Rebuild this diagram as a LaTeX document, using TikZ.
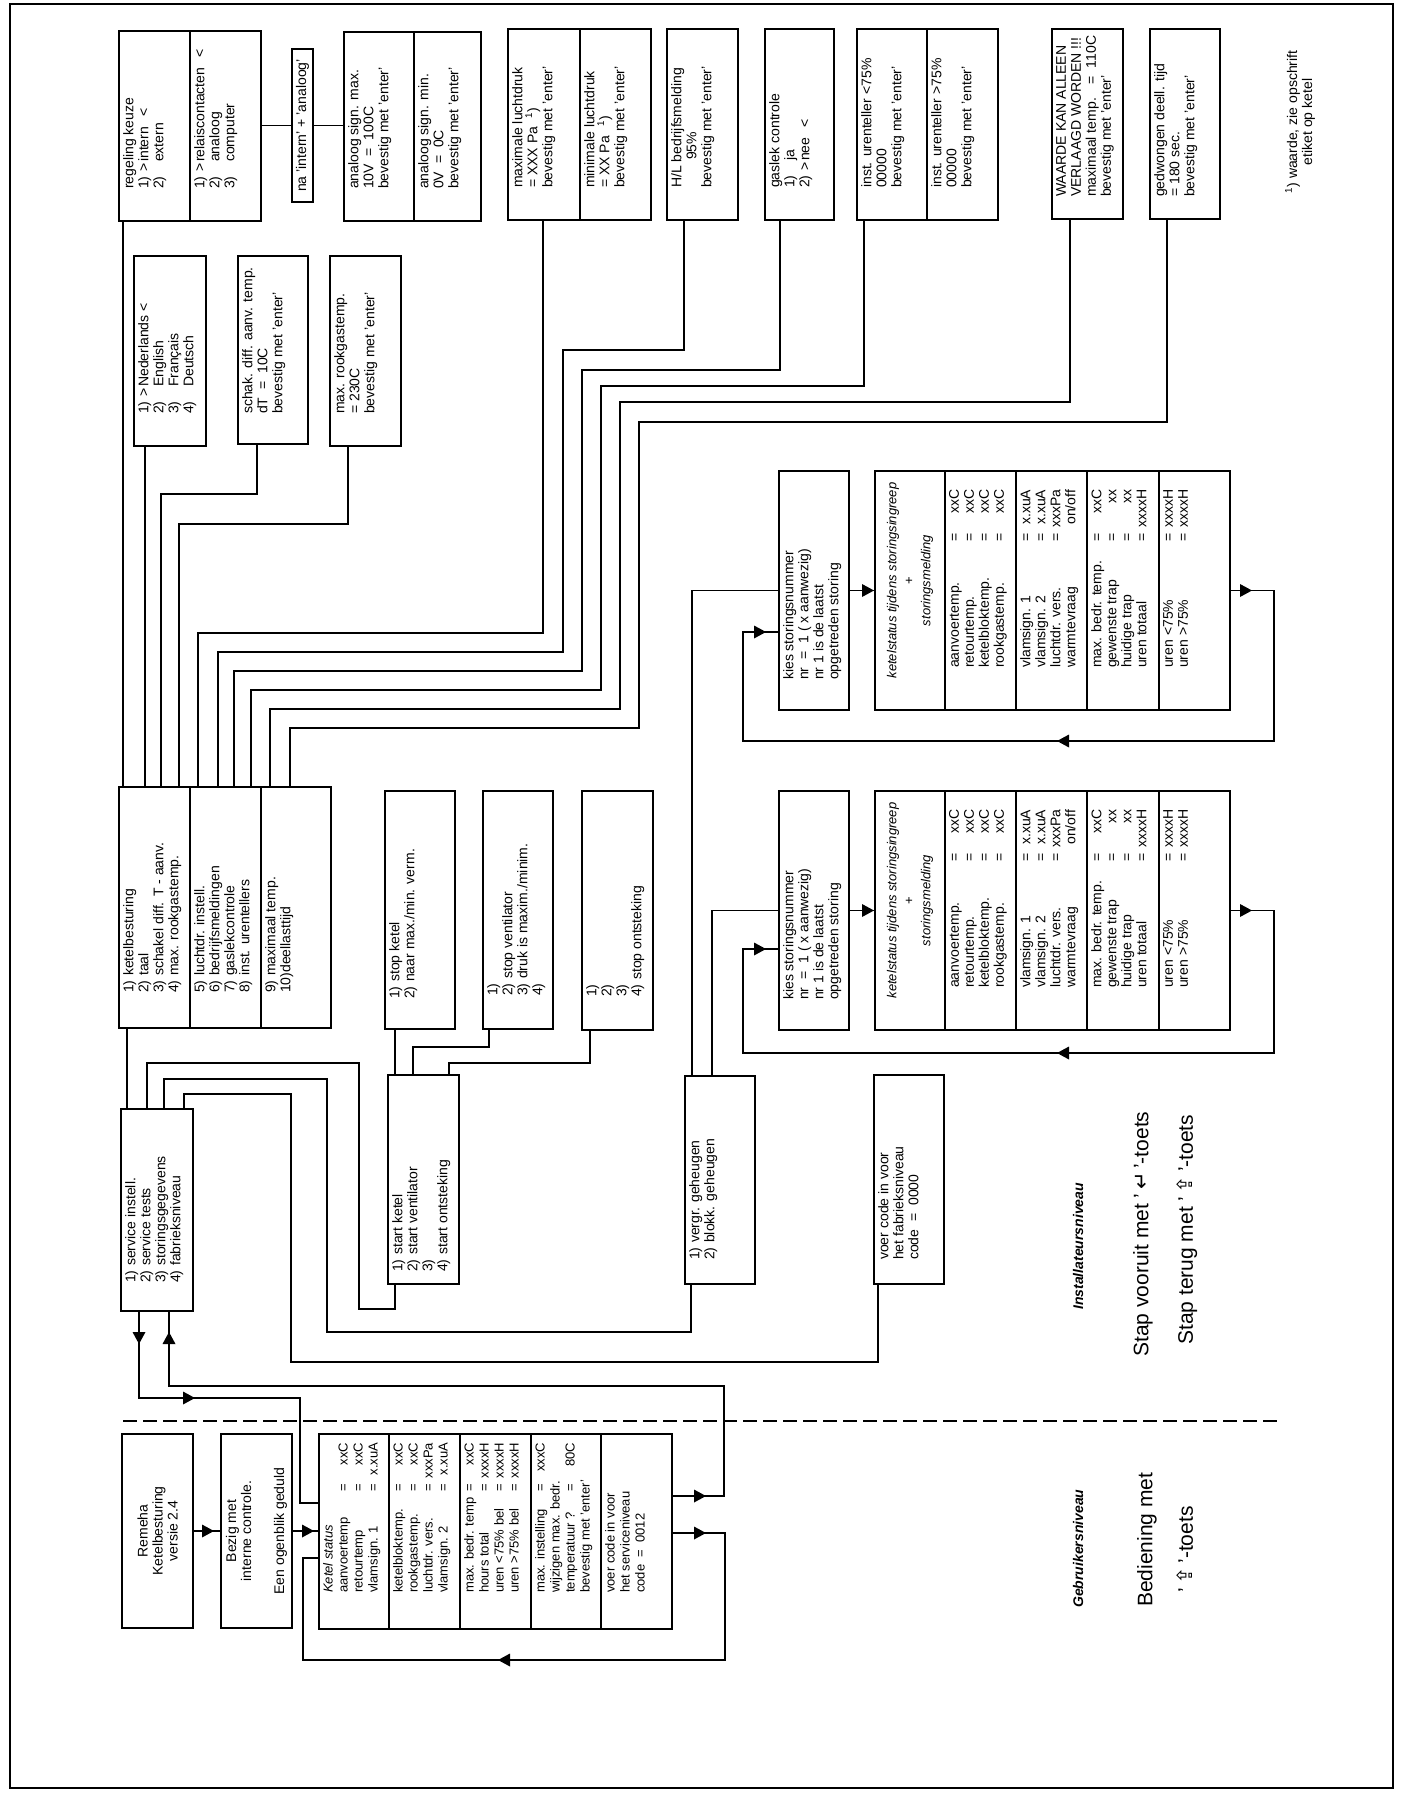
\documentclass[tikz,border=0pt]{standalone}
\usepackage{fontspec}
\setmainfont{Liberation Sans}
\newfontfamily\symfont{DejaVu Sans}
\usetikzlibrary{calc,positioning}

\newcommand\nr[1]{\makebox[17pt][l]{#1}}
\newcommand\sel{\makebox[10pt][l]{>}}
\newcommand\nosel{\hspace*{10pt}}
\newcommand\ks[2]{\makebox[100pt][l]{#1}\makebox[10pt]{=}\makebox[40pt][r]{#2}}
\newcommand\kf[2]{\makebox[125pt][l]{#1}\makebox[10pt]{=}\makebox[43pt][r]{#2}}
\newcommand\bx[5]{\node[menubox, minimum width={(#4-#2)*1pt}, minimum height={(#5-#3)*1pt}] (#1) at ({(#2+#4)/2},{(#3+#5)/2}) {};}

\tikzset{
  menubox/.style={draw, line width=1.4pt, inner sep=0pt, outer sep=0pt},
  txt/.style={rotate=90, anchor=north west, inner sep=0pt, align=left, font=\fontsize{14}{15}\selectfont},
  ctxt/.style={rotate=90, anchor=center, inner sep=0pt, align=center, font=\fontsize{14}{15}\selectfont},
  kstxt/.style={txt, font=\fontsize{13}{15}\selectfont},
  lvl/.style={rotate=90, anchor=west, inner sep=0pt, font=\fontsize{14}{16}\selectfont\bfseries\itshape},
  big/.style={rotate=90, anchor=west, inner sep=0pt, font=\fontsize{21}{24}\selectfont},
  wire/.style={line width=1.2pt},
  tri/.pic={\fill (0,0) -- (-12,-6.5) -- (-12,6.5) -- cycle;}
}

\begin{document}
\begin{tikzpicture}[x=1pt, y=-1pt]
\fill[white] (0,0) rectangle (1407,1795);
\useasboundingbox (0,0) rectangle (1407,1795);
\draw[wire] (10,4) rectangle (1393,1788);

\bx{reg1}{119}{31}{190}{221}
\bx{reg2}{190}{31}{261}{221}
\bx{na}{292}{49}{313}{202}
\bx{ana1}{344}{32}{414}{221}
\bx{ana2}{414}{32}{481}{221}
\bx{lucht1}{508}{29}{580}{220}
\bx{lucht2}{580}{29}{651}{220}
\bx{hl}{667}{29}{738}{220}
\bx{gas}{765}{29}{834}{220}
\bx{uren1}{857}{29}{927}{220}
\bx{uren2}{927}{29}{998}{220}
\bx{waarde}{1052}{29}{1123}{219}
\bx{deel}{1150}{29}{1220}{219}
\bx{taal}{134}{256}{206}{446}
\bx{schak}{238}{256}{308}{444}
\bx{rook}{330}{256}{401}{446}

\bx{menu1}{119}{787}{190}{1028}
\bx{menu2}{190}{787}{261}{1028}
\bx{menu3}{261}{787}{331}{1028}
\bx{stopk}{385}{791}{455}{1029}
\bx{stopv}{483}{791}{553}{1029}
\bx{stopo}{582}{791}{653}{1030}

\bx{kies1}{779}{471}{849}{710}
\bx{st1a}{875}{471}{945}{710}
\bx{st1b}{945}{471}{1016}{710}
\bx{st1c}{1016}{471}{1087}{710}
\bx{st1d}{1087}{471}{1159}{710}
\bx{st1e}{1159}{471}{1230}{710}
\bx{kies2}{779}{791}{849}{1030}
\bx{st2a}{875}{791}{945}{1030}
\bx{st2b}{945}{791}{1016}{1030}
\bx{st2c}{1016}{791}{1087}{1030}
\bx{st2d}{1087}{791}{1159}{1030}
\bx{st2e}{1159}{791}{1230}{1030}

\bx{svc}{121}{1109}{193}{1311}
\bx{start}{388}{1075}{459}{1284}
\bx{vergr}{685}{1076}{755}{1284}
\bx{fabr}{874}{1075}{944}{1284}

\bx{remeha}{122}{1434}{193}{1628}
\bx{bezig}{221}{1434}{292}{1628}
\bx{ks1}{319}{1434}{389}{1629}
\bx{ks2}{389}{1434}{460}{1629}
\bx{ks3}{460}{1434}{531}{1629}
\bx{ks4}{531}{1434}{601}{1629}
\bx{ks5}{601}{1434}{672}{1629}

\node[txt] (reg1t) at ($(reg1.south west)+(4,-32)$) {regeling keuze\\\nr{1)}\sel intern\hspace{10pt}<\\\nr{2)}\nosel extern};
\node[txt] (reg2t) at ($(reg2.south west)+(4,-32)$) {\nr{1)}\sel relaiscontacten\hspace{10pt}<\\\nr{2)}\nosel analoog\\\nr{3)}\nosel computer};
\node[ctxt] (nat) at (na.center) {na 'intern' + 'analoog'};
\node[txt] (ana1t) at ($(ana1.south west)+(4,-32)$) {analoog sign. max.\\10V\ \ =\ \ 100C\\bevestig met 'enter'};
\node[txt] (ana2t) at ($(ana2.south west)+(4,-32)$) {analoog sign. min.\\0V\ \ =\ \ 0C\\bevestig met 'enter'};
\node[txt] (lucht1t) at ($(lucht1.south west)+(4,-32)$) {maximale luchtdruk\\=\ XXX Pa\hspace{8pt}\textsuperscript{1})\\bevestig met 'enter'};
\node[txt] (lucht2t) at ($(lucht2.south west)+(4,-32)$) {minimale luchtdruk\\=\ XX Pa\hspace{10pt}\textsuperscript{1})\\bevestig met 'enter'};
\node[txt] (hlt) at ($(hl.south west)+(4,-32)$) {H/L bedrijfsmelding\\\hspace*{28pt}95\%\\bevestig met 'enter'};
\node[txt] (gast) at ($(gas.south west)+(4,-32)$) {gaslek controle\\\nr{1)}\nosel ja\\\nr{2)}\sel nee\hspace{10pt}<};
\node[txt] (uren1t) at ($(uren1.south west)+(4,-32)$) {inst. urenteller <75\%\\00000\\bevestig met 'enter'};
\node[txt] (uren2t) at ($(uren2.south west)+(4,-32)$) {inst. urenteller >75\%\\00000\\bevestig met 'enter'};
\node[txt] (waardet) at ($(waarde.south west)+(4,-22)$) {WAARDE KAN ALLEEN\\VERLAAGD WORDEN !!!\\maximaal temp.\hspace{14pt}=\ \ 110C\\bevestig met 'enter'};
\node[txt] (deelt) at ($(deel.south west)+(4,-22)$) {gedwongen deell. tijd\\=\ 180 sec.\\bevestig met 'enter'};
\node[ctxt] (foot) at (1300,122) {\textsuperscript{1}) waarde, zie opschrift\\etiket op ketel};
\node[txt] (taalt) at ($(taal.south west)+(4,-32)$) {\nr{1)}\sel Nederlands <\\\nr{2)}\nosel English\\\nr{3)}\nosel Français\\\nr{4)}\nosel Deutsch};
\node[txt] (schakt) at ($(schak.south west)+(4,-30)$) {schak. diff. aanv. temp.\\dT\ \ =\ \ 10C\\bevestig met 'enter'};
\node[txt] (rookt) at ($(rook.south west)+(4,-32)$) {max. rookgastemp.\\=\ 230C\\bevestig met 'enter'};

\node[txt] (menu1t) at ($(menu1.south west)+(4,-35)$) {\nr{1)}ketelbesturing\\\nr{2)}taal\\\nr{3)}schakel diff. T - aanv.\\\nr{4)}max. rookgastemp.};
\node[txt] (menu2t) at ($(menu2.south west)+(4,-35)$) {\nr{5)}luchtdr. instell.\\\nr{6)}bedrijfsmeldingen\\\nr{7)}gaslekcontrole\\\nr{8)}inst. urentellers};
\node[txt] (menu3t) at ($(menu3.south west)+(4,-35)$) {\nr{9)}maximaal temp.\\10)deellasttijd};
\node[txt] (stopkt) at ($(stopk.south west)+(4,-30)$) {\nr{1)}stop ketel\\\nr{2)}naar max./min. verm.};
\node[txt] (stopvt) at ($(stopv.south west)+(4,-33)$) {1)\\\nr{2)}stop ventilator\\\nr{3)}druk is maxim./minim.\\4)};
\node[txt] (stopot) at ($(stopo.south west)+(4,-33)$) {1)\\2)\\3)\\\nr{4)}stop ontsteking};

\node[txt] (kies1t) at ($(kies1.south west)+(4,-30)$) {kies storingsnummer\\nr\ \ =\ \ 1 ( x aanwezig)\\nr 1 is de laatst\\opgetreden storing};
\node[ctxt, font=\fontsize{13}{17}\selectfont] (st1at) at ($(st1a.center)+(0,-10)$) {\textit{ketelstatus tijdens storingsingreep}\\+\\\textit{storingsmelding}};
\node[txt] (st1bt) at ($(st1b.south west)+(4,-42)$) {\kf{aanvoertemp.}{xxC}\\\kf{retourtemp.}{xxC}\\\kf{ketelbloktemp.}{xxC}\\\kf{rookgastemp.}{xxC}};
\node[txt] (st1ct) at ($(st1c.south west)+(4,-42)$) {\kf{vlamsign. 1}{x.xuA}\\\kf{vlamsign. 2}{x.xuA}\\\kf{luchtdr. vers.}{xxxPa}\\\makebox[135pt][l]{warmtevraag}\makebox[43pt][r]{on/off}};
\node[txt] (st1dt) at ($(st1d.south west)+(4,-42)$) {\kf{max. bedr. temp.}{xxC}\\\kf{gewenste trap}{xx}\\\kf{huidige trap}{xx}\\\kf{uren totaal}{xxxxH}};
\node[txt] (st1et) at ($(st1e.south west)+(4,-42)$) {\kf{uren <75\%}{xxxxH}\\\kf{uren >75\%}{xxxxH}};

\node[txt] (kies2t) at ($(kies2.south west)+(4,-30)$) {kies storingsnummer\\nr\ \ =\ \ 1 ( x aanwezig)\\nr 1 is de laatst\\opgetreden storing};
\node[ctxt, font=\fontsize{13}{17}\selectfont] (st2at) at ($(st2a.center)+(0,-10)$) {\textit{ketelstatus tijdens storingsingreep}\\+\\\textit{storingsmelding}};
\node[txt] (st2bt) at ($(st2b.south west)+(4,-42)$) {\kf{aanvoertemp.}{xxC}\\\kf{retourtemp.}{xxC}\\\kf{ketelbloktemp.}{xxC}\\\kf{rookgastemp.}{xxC}};
\node[txt] (st2ct) at ($(st2c.south west)+(4,-42)$) {\kf{vlamsign. 1}{x.xuA}\\\kf{vlamsign. 2}{x.xuA}\\\kf{luchtdr. vers.}{xxxPa}\\\makebox[135pt][l]{warmtevraag}\makebox[43pt][r]{on/off}};
\node[txt] (st2dt) at ($(st2d.south west)+(4,-42)$) {\kf{max. bedr. temp.}{xxC}\\\kf{gewenste trap}{xx}\\\kf{huidige trap}{xx}\\\kf{uren totaal}{xxxxH}};
\node[txt] (st2et) at ($(st2e.south west)+(4,-42)$) {\kf{uren <75\%}{xxxxH}\\\kf{uren >75\%}{xxxxH}};

\node[txt] (svct) at ($(svc.south west)+(4,-28)$) {\nr{1)}service instell.\\\nr{2)}service tests\\\nr{3)}storingsgegevens\\\nr{4)}fabrieksniveau};
\node[txt] (startt) at ($(start.south west)+(4,-12)$) {\nr{1)}start ketel\\\nr{2)}start ventilator\\3)\\\nr{4)}start ontsteking};
\node[txt] (vergrt) at ($(vergr.south west)+(4,-24)$) {\nr{1)}vergr. geheugen\\\nr{2)}blokk. geheugen};
\node[txt] (fabrt) at ($(fabr.south west)+(4,-24)$) {voer code in voor\\het fabrieksniveau\\code\ \ =\ \ 0000};

\node[ctxt] (remehat) at (remeha.center) {Remeha\\Ketelbesturing\\versie 2.4};
\node[ctxt] (bezigt) at (bezig.center) {Bezig met\\interne controle.\\[18pt]Een ogenblik geduld};
\node[kstxt] (ks1t) at ($(ks1.south west)+(4,-36)$) {\textit{Ketel status}\\\ks{aanvoertemp}{xxC}\\\ks{retourtemp}{xxC}\\\ks{vlamsign. 1}{x.xuA}};
\node[kstxt] (ks2t) at ($(ks2.south west)+(4,-36)$) {\ks{ketelbloktemp.}{xxC}\\\ks{rookgastemp.}{xxC}\\\ks{luchtdr. vers.}{xxxPa}\\\ks{vlamsign. 2}{x.xuA}};
\node[kstxt] (ks3t) at ($(ks3.south west)+(4,-36)$) {\ks{max. bedr. temp}{xxC}\\\ks{hours total}{xxxxH}\\\ks{uren <75\% bel}{xxxxH}\\\ks{uren >75\% bel}{xxxxH}};
\node[kstxt] (ks4t) at ($(ks4.south west)+(4,-36)$) {\ks{max. instelling}{xxxC}\\wijzigen max. bedr.\\\ks{temperatuur ?}{80C}\\bevestig met 'enter'};
\node[kstxt] (ks5t) at ($(ks5.south west)+(4,-36)$) {voer code in voor\\het serviceniveau\\code\ \ =\ \ 0012};

\node[lvl] (gebr) at (1078,1608) {Gebruikersniveau};
\node[big] (bedien) at (1147,1607) {Bediening met};
\node[big] (toets) at (1185,1593) {'\,{\symfont ⇪}\,'-toets};
\node[lvl] (inst) at (1078,1310) {Installateursniveau};
\node[big] (vooruit) at (1143,1357) {Stap vooruit met '\,{\symfont ↵}\,'-toets};
\node[big] (terug) at (1187,1345) {Stap terug met '\,{\symfont ⇪}\,'-toets};

\draw[wire, dash pattern=on 14pt off 6pt] (123,1421) -- (1277,1421);

\draw[wire] (reg2.east |- na.west) -- (na.west);
\draw[wire] (na.east) -- (ana1.west |- na.east);
\draw[wire] (123,0 |- reg1.south) -- (123,0 |- menu1.north);
\draw[wire] (145,0 |- taal.south) -- (145,0 |- menu1.north);
\draw[wire] (257,0 |- schak.south) |- (161,494) -- (161,0 |- menu1.north);
\draw[wire] (348,0 |- rook.south) |- (179,524) -- (179,0 |- menu1.north);
\draw[wire] (543,0 |- lucht1.south) |- (198,633) -- (198,0 |- menu2.north);
\draw[wire] (684,0 |- hl.south) |- (563,350) |- (218,652) -- (218,0 |- menu2.north);
\draw[wire] (780,0 |- gas.south) |- (582,370) |- (234,671) -- (234,0 |- menu2.north);
\draw[wire] (864,0 |- uren1.south) |- (601,386) |- (251,690) -- (251,0 |- menu2.north);
\draw[wire] (1070,0 |- waarde.south) |- (620,402) |- (270,709) -- (270,0 |- menu3.north);
\draw[wire] (1167,0 |- deel.south) |- (639,422) |- (290,728) -- (290,0 |- menu3.north);

\draw[wire] (127,0 |- menu1.south) -- (127,0 |- svc.north);
\draw[wire] (147,0 |- svc.north) |- (359,1063) |- (395,1309) -- (395,0 |- start.south);
\draw[wire] (164,0 |- svc.north) |- (327,1079) |- (691,1332) -- (691,0 |- vergr.south);
\draw[wire] (184,0 |- svc.north) |- (291,1094) |- (878,1362) -- (878,0 |- fabr.south);
\draw[wire] (395,0 |- start.north) -- (395,0 |- stopk.south);
\draw[wire] (413,0 |- start.north) |- (489,1047) -- (489,0 |- stopv.south);
\draw[wire] (449,0 |- start.north) |- (590,1063) -- (590,0 |- stopo.south);

\draw[wire] (692,0 |- vergr.north) |- (kies1.west);
\draw[wire] (712,0 |- vergr.north) |- (kies2.west);
\draw[wire] (kies1.east) -- (st1a.west);
\draw[wire] (kies2.east) -- (st2a.west);
\draw[wire] (st1e.east) -| (1274,741) -| (743,632) -- (kies1.west |- 0,632);
\draw[wire] (st2e.east) -| (1274,1053) -| (743,949) -- (kies2.west |- 0,949);

\draw[wire] (139,0 |- svc.south) |- (300,1398) |- (ks1.west |- 0,1503);
\draw[wire] (ks5.east |- 0,1496) -| (724,1386) -| (169,0 |- svc.south);
\draw[wire] (remeha.east) -- (bezig.west);
\draw[wire] (bezig.east) -- (ks1.west |- bezig.east);
\draw[wire] (ks5.east |- 0,1533) -| (725,1660) -| (303,1558) -- (ks1.west |- 0,1558);

\pic[rotate=-90] at (139,1344) {tri};
\pic at (195,1398) {tri};
\pic[rotate=90] at (169,1332) {tri};
\pic at (706,1496) {tri};
\pic at (706,1533) {tri};
\pic[rotate=180] at (498,1660) {tri};
\pic at (214,1531) {tri};
\pic at (314,1531) {tri};
\pic at (874,590.5) {tri};
\pic at (1252,590.5) {tri};
\pic[rotate=180] at (1057,741) {tri};
\pic at (766,632) {tri};
\pic at (874,910.5) {tri};
\pic at (1252,910.5) {tri};
\pic[rotate=180] at (1057,1053) {tri};
\pic at (766,949) {tri};
\end{tikzpicture}
\end{document}
